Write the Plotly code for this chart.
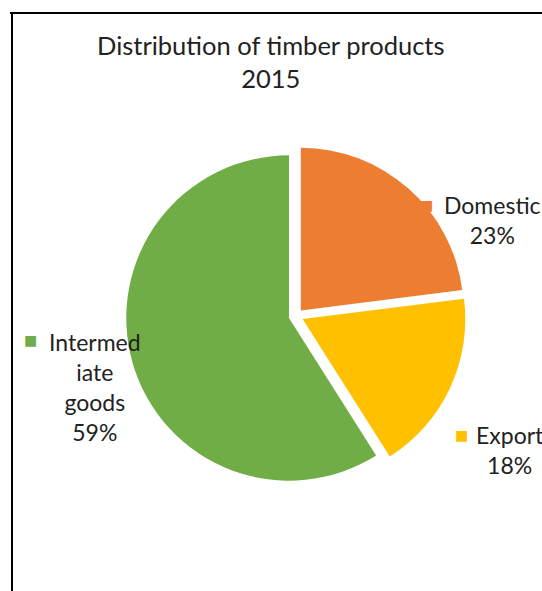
import plotly.graph_objects as go

# data
labels = ["Domestic", "Export", "Intermediate goods"]
values = [23, 18, 59]
label_text = ["Domestic", "Export", "Intermed<br>iate<br>goods"]
colors = ["#ED7D31", "#FFC000", "#70AD47"]
title_lines = ["Distribution of timber products", "2015"]

W, H = 542, 591
FONT = "Lato, Calibri, Arial, sans-serif"


def px(x, y):
    # pixel position -> paper fraction (margins are zero)
    return x / W, 1 - y / H


fig = go.Figure()

fig.add_trace(
    go.Pie(
        labels=labels,
        values=values,
        sort=False,
        direction="clockwise",
        rotation=0,
        pull=[0.045, 0.045, 0.045],
        marker=dict(colors=colors, line=dict(width=0)),
        textinfo="none",
        hoverinfo="label+percent",
        showlegend=False,
        domain=dict(x=[(296 - 170) / W, (296 + 170) / W], y=[1 - (316 + 170) / H, 1 - (316 - 170) / H]),
    )
)

# label blocks: (text centre px, square px)
label_pos = [((492, 220), (426, 205)), ((510, 450), (461, 435)), ((95, 387), (30, 340))]
total = sum(values)
for name, val, col, (tc, sq) in zip(label_text, values, colors, label_pos):
    tx, ty = px(*tc)
    fig.add_annotation(
        x=tx, y=ty, xref="paper", yref="paper",
        text=f"{name}<br>{round(val / total * 100)}%",
        showarrow=False, align="center", xanchor="center", yanchor="middle",
        font=dict(size=23, family=FONT, color="#222222"),
    )
    sx, sy = px(*sq)
    fig.add_annotation(
        x=sx, y=sy, xref="paper", yref="paper",
        text="■", showarrow=False, xanchor="center", yanchor="middle",
        font=dict(size=14, family="DejaVu Sans", color=col),
    )

# title
tx, ty = px(271, 61)
fig.add_annotation(
    x=tx, y=ty, xref="paper", yref="paper",
    text="<br>".join(title_lines),
    showarrow=False, align="center", xanchor="center", yanchor="middle",
    font=dict(size=25.5, family=FONT, color="#222222"),
)

# chart frame (top and left edges visible in the crop)
fig.add_shape(type="line", xref="paper", yref="paper", x0=10 / W, x1=1, y0=1 - 13 / H, y1=1 - 13 / H,
              line=dict(color="black", width=2))
fig.add_shape(type="line", xref="paper", yref="paper", x0=12 / W, x1=12 / W, y0=1 - 13 / H, y1=0,
              line=dict(color="black", width=2))

fig.update_layout(
    width=W,
    height=H,
    margin=dict(l=0, r=0, t=0, b=0),
    paper_bgcolor="white",
    plot_bgcolor="white",
)

fig.write_html(
    "out.html",
    config={"displayModeBar": False},
    post_script="document.body.style.margin='0';",
)
